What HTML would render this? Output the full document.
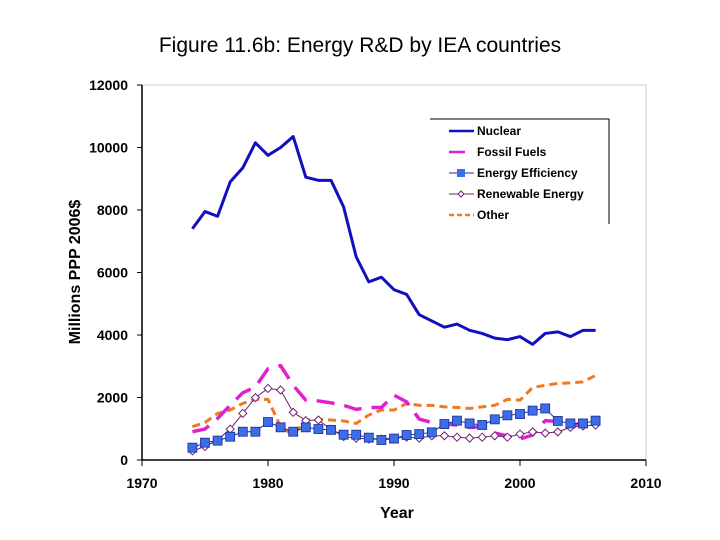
<!DOCTYPE html>
<html><head><meta charset="utf-8"><style>
body{margin:0;background:#fff;}
svg{display:block;font-family:"Liberation Sans",Arial,sans-serif;}
</style></head><body>
<svg id="c" width="720" height="540">
<text x="360" y="52" text-anchor="middle" font-size="21">Figure 11.6b: Energy R&amp;D by IEA countries</text>
<rect x="142" y="85" width="504" height="375" fill="none" stroke="#ccc"/>
<g id="axes"></g>
<g id="series"></g>
<text x="397" y="518" text-anchor="middle" font-size="16" font-weight="bold">Year</text>
<text transform="translate(80,272) rotate(-90)" text-anchor="middle" font-size="16" font-weight="bold">Millions PPP 2006$</text>
<g id="legend"></g>
</svg>
<script>
const years=[1974,1975,1976,1977,1978,1979,1980,1981,1982,1983,1984,1985,1986,1987,1988,1989,1990,1991,1992,1993,1994,1995,1996,1997,1998,1999,2000,2001,2002,2003,2004,2005,2006];
const nuclear=[7400,7950,7800,8900,9350,10150,9750,10000,10350,9050,8950,8950,8100,6500,5700,5850,5450,5300,4650,4450,4250,4350,4150,4050,3900,3850,3950,3700,4050,4100,3950,4150,4150];
const fossil=[905,990,1330,1750,2150,2340,2920,3020,2390,1915,1890,1830,1750,1620,1680,1680,2075,1860,1310,1200,1150,1120,1045,1065,860,775,670,800,1260,1230,1120,1170,1230];
const efficiency=[395,555,620,745,905,905,1215,1045,905,1045,990,965,810,810,715,640,685,800,830,884,1150,1260,1170,1120,1300,1430,1470,1580,1650,1250,1170,1170,1260];
const renewable=[290,430,640,990,1490,1995,2290,2240,1525,1260,1280,980,750,700,670,670,700,730,700,775,775,730,700,730,775,730,830,900,860,900,1045,1090,1120];
const other=[1065,1200,1490,1600,1810,1940,1940,1065,800,1280,1300,1280,1250,1170,1440,1600,1600,1810,1750,1750,1700,1680,1650,1700,1750,1940,1915,2320,2390,2450,2470,2500,2710];
const xTicks=[1970,1980,1990,2000,2010];
const yTicks=[0,2000,4000,6000,8000,10000,12000];
const X=v=>142+(v-1970)*12.6;
const Y=v=>460-v*0.03125;
const NS="http://www.w3.org/2000/svg";
function mk(t,a,p){const e=document.createElementNS(NS,t);for(const k in a)e.setAttribute(k,a[k]);p.appendChild(e);return e;}
const ax=document.getElementById('axes');
let l=mk('line',{x1:142,y1:85,x2:142,y2:460,stroke:'#000','stroke-width':1.5},ax);


l=mk('line',{x1:142,y1:460,x2:646,y2:460,stroke:'#000','stroke-width':1.5},ax);


yTicks.forEach(v=>{mk('line',{x1:137,x2:142,y1:Y(v),y2:Y(v),stroke:'#000'},ax);
const t=mk('text',{x:128,y:Y(v)+5,'text-anchor':'end','font-size':14,'font-weight':'bold'},ax);t.textContent=v;

});
xTicks.forEach(v=>{mk('line',{x1:X(v),x2:X(v),y1:460,y2:466,stroke:'#000'},ax);
const t=mk('text',{x:X(v),y:488,'text-anchor':'middle','font-size':14,'font-weight':'bold'},ax);t.textContent=v;

});
const sg=document.getElementById('series');
function line(d,st,name){const p=mk('polyline',Object.assign({points:d.map((v,i)=>X(years[i])+','+Y(v)).join(' '),fill:'none','stroke-linejoin':'round'},st),sg);

}
line(other,{stroke:'#f07820','stroke-width':3,'stroke-dasharray':'8,5'},'other-line');
line(fossil,{stroke:'#e020d0','stroke-width':3.5,'stroke-dasharray':'18,10'},'fossil-fuels-line');
line(renewable,{stroke:'#702070','stroke-width':1},'renewable-line');
renewable.forEach((v,i)=>{const x=X(years[i]),y=Y(v);const m=mk('polygon',{points:`${x},${y-4} ${x+4},${y} ${x},${y+4} ${x-4},${y}`,fill:'#fff',stroke:'#702070'},sg);

});
line(efficiency,{stroke:'#1a2a90','stroke-width':1},'efficiency-line');
efficiency.forEach((v,i)=>{const m=mk('rect',{x:X(years[i])-4.5,y:Y(v)-4.5,width:9,height:9,fill:'#3b6ee8',stroke:'#1a2a90','stroke-width':0.8},sg);

});
line(nuclear,{stroke:'#1010c0','stroke-width':3},'nuclear-line');
const lg=document.getElementById('legend');
mk('rect',{x:430,y:118,width:179,height:106,fill:'#fff'},lg);
mk('polyline',{points:'430,119 609,119 609,224',fill:'none',stroke:'#000'},lg);
const items=[['Nuclear','nuclear'],['Fossil Fuels','fossil'],['Energy Efficiency','eff'],['Renewable Energy','ren'],['Other','other']];
items.forEach((it,i)=>{const y=131+i*21;const g=mk('g',{},lg);


if(it[1]=='nuclear')mk('line',{x1:449,x2:474,y1:y,y2:y,stroke:'#1010c0','stroke-width':2.5},g);
if(it[1]=='fossil'){mk('line',{x1:449,x2:465,y1:y,y2:y,stroke:'#e020d0','stroke-width':2.5},g);}
if(it[1]=='eff'){mk('line',{x1:449,x2:474,y1:y,y2:y,stroke:'#1a2a90'},g);mk('rect',{x:457,y:y-4,width:8,height:8,fill:'#3b6ee8'},g);}
if(it[1]=='ren'){mk('line',{x1:449,x2:474,y1:y,y2:y,stroke:'#702070'},g);mk('polygon',{points:`461,${y-3} 464,${y} 461,${y+3} 458,${y}`,fill:'#fff',stroke:'#702070'},g);}
if(it[1]=='other')mk('line',{x1:449,x2:474,y1:y,y2:y,stroke:'#f07820','stroke-width':2.5,'stroke-dasharray':'5,3'},g);
const t=mk('text',{x:477,y:y+4,'font-size':12,'font-weight':'bold'},g);t.textContent=it[0];});
</script>
</body></html>
